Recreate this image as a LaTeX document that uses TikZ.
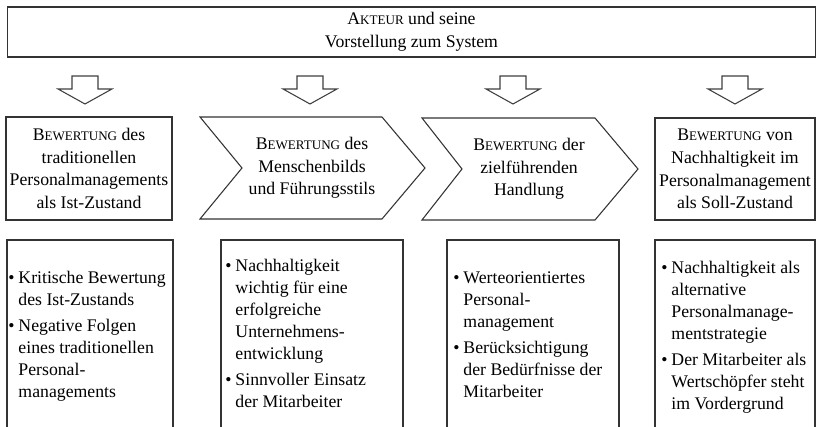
\documentclass[tikz,border=0pt]{standalone}
\usepackage{fontspec}
\setmainfont{Liberation Serif}
\usetikzlibrary{positioning}

\newcommand{\kap}[2]{#1{\fontsize{9.8}{10}\selectfont #2}}
\newcommand{\punkt}{\textbullet}

\tikzset{
  rahmen/.style={draw=black!80, line width=0.8pt},
  kopf/.style={align=center, inner sep=0pt, font=\fontsize{13.3}{17}\selectfont},
  liste/.style={align=left, inner sep=0pt, font=\fontsize{13.3}{16.5}\selectfont},
  pfeil/.style={draw=black!75, line width=0.8pt, fill=white},
}

\begin{document}
\begin{tikzpicture}[x=0.75pt,y=-0.75pt]
\useasboundingbox (0,0) rectangle (819,427);

% Akteur
\node[rahmen, kopf, minimum width=606pt, minimum height=37.5pt] (akteur) at (411.5,32)
  {\kap{A}{KTEUR} und seine\\Vorstellung zum System};

% Blockpfeile
\foreach \x in {85,310,513,735}
  \draw[pfeil] (\x-13,76) -- (\x+13,76) -- (\x+13,89) -- (\x+27,89) -- (\x,104)
    -- (\x-27,89) -- (\x-13,89) -- cycle;

% zweite Reihe
\node[rahmen, kopf, minimum width=124.5pt, minimum height=77.25pt] (bew1) at (89,168.5)
  {\kap{B}{EWERTUNG} des\\traditionellen\\Personalmanagements\\als Ist-Zustand};
\draw[rahmen] (200,117) -- (382,117) -- (425,168) -- (382,219) -- (200,219) -- (242,168) -- cycle;
\node[kopf] (bew2) at (312,168) {\kap{B}{EWERTUNG} des\\Menschenbilds\\und Führungsstils};
\draw[rahmen] (422,118) -- (595,118) -- (638,169) -- (595,220) -- (422,220) -- (462,169) -- cycle;
\node[kopf] (bew3) at (529,169) {\kap{B}{EWERTUNG} der\\zielführenden\\Handlung};
\node[rahmen, kopf, minimum width=120pt, minimum height=76.5pt] (bew4) at (735,169)
  {\kap{B}{EWERTUNG} von\\Nachhaltigkeit im\\Personalmanagement\\als Soll-Zustand};

% dritte Reihe (unten abgeschnitten)
\begin{scope}
\clip (0,0) rectangle (819,427);
\node[rahmen, minimum width=124.5pt, minimum height=144pt] (box1) at (90,336) {};
\node[rahmen, minimum width=136.5pt, minimum height=144pt] (box2) at (312,336) {};
\node[rahmen, minimum width=129pt, minimum height=144pt] (box3) at (533,336) {};
\node[rahmen, minimum width=120pt, minimum height=144pt] (box4) at (735,336) {};
\end{scope}

\node[liste, anchor=west] (liste1) at (8,336)
  {\begin{tabular}{@{}l@{\hspace{3pt}}l@{}}
   \punkt & Kritische Bewertung\\ & des Ist-Zustands\\[3pt]
   \punkt & Negative Folgen\\ & eines traditionellen\\ & Personal-\\ & managements
   \end{tabular}};
\node[liste, anchor=west] (liste2) at (225,335)
  {\begin{tabular}{@{}l@{\hspace{3pt}}l@{}}
   \punkt & Nachhaltigkeit\\ & wichtig für eine\\ & erfolgreiche\\ & Unternehmens-\\ & entwicklung\\[3pt]
   \punkt & Sinnvoller Einsatz\\ & der Mitarbeiter
   \end{tabular}};
\node[liste, anchor=west] (liste3) at (453,336)
  {\begin{tabular}{@{}l@{\hspace{3pt}}l@{}}
   \punkt & Werteorientiertes\\ & Personal-\\ & management\\[3pt]
   \punkt & Berücksichtigung\\ & der Bedürfnisse der\\ & Mitarbeiter
   \end{tabular}};
\node[liste, anchor=west] (liste4) at (661,337)
  {\begin{tabular}{@{}l@{\hspace{3pt}}l@{}}
   \punkt & Nachhaltigkeit als\\ & alternative\\ & Personalmanage-\\ & mentstrategie\\[3pt]
   \punkt & Der Mitarbeiter als\\ & Wertschöpfer steht\\ & im Vordergrund
   \end{tabular}};
\end{tikzpicture}
\end{document}
